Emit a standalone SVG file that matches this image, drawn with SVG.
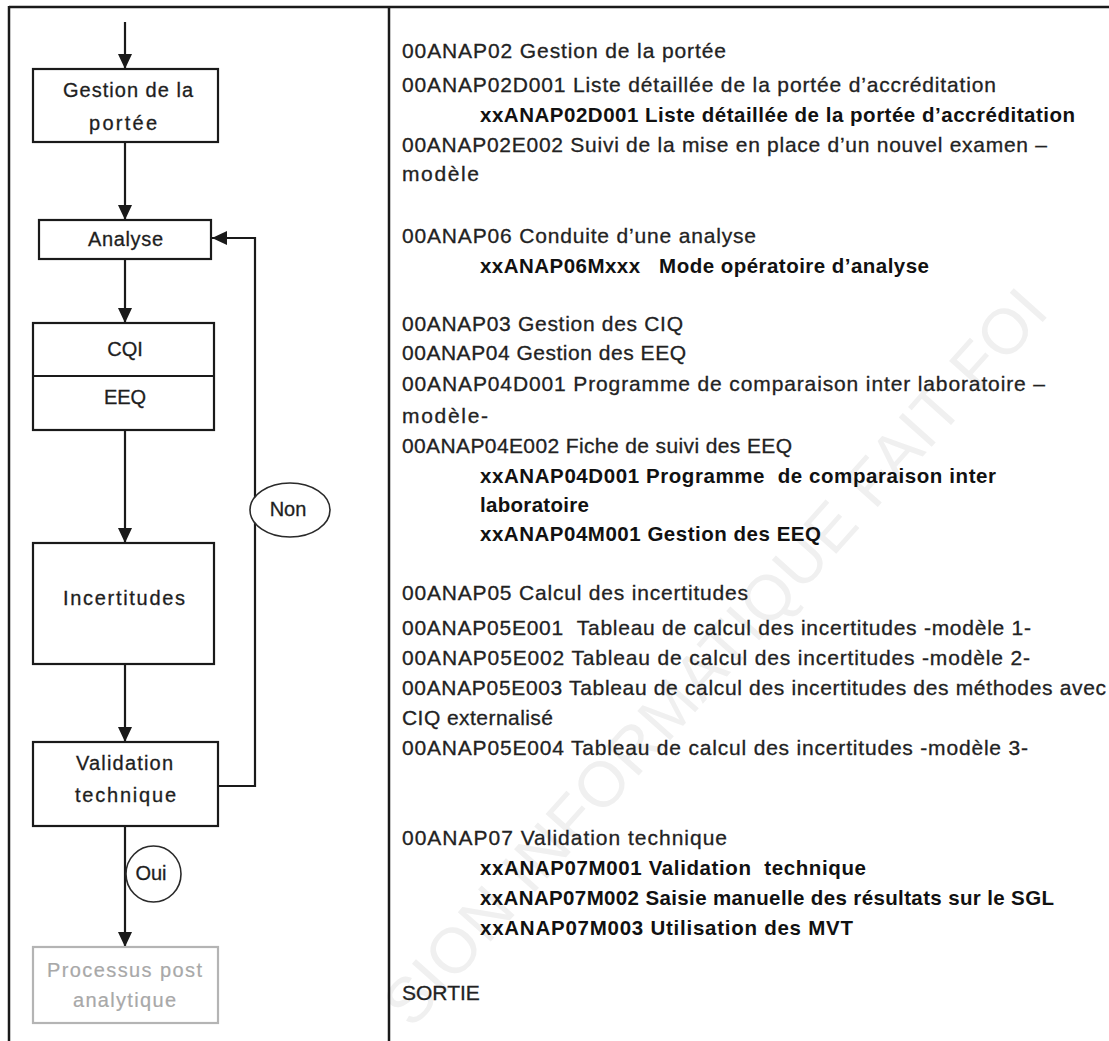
<svg xmlns="http://www.w3.org/2000/svg" width="1109" height="1041" viewBox="0 0 1109 1041">
<defs>
<style>
text{font-family:"Liberation Sans",Arial,sans-serif;white-space:pre;}
.fc{font-size:20px;fill:#1e1e1e;stroke:#1e1e1e;stroke-width:0.3;text-anchor:middle;}
.fcg{font-size:20px;fill:#a8a8a8;stroke:#a8a8a8;stroke-width:0.2;text-anchor:middle;}
.t{font-size:21px;fill:#222;stroke:#222;stroke-width:0.3;}
.b{font-size:20.5px;font-weight:bold;fill:#111;}
.box{fill:#fff;stroke:#1a1a1a;stroke-width:2.2;}
.gbox{fill:#fff;stroke:#b4b4b4;stroke-width:2.2;}
.ln{fill:none;stroke:#1a1a1a;stroke-width:2.2;}
.lab{fill:#fff;stroke:#2a2a2a;stroke-width:1.6;}
.wm{font-size:64px;fill:#f0f0f0;}
</style>
<marker id="ah" markerUnits="userSpaceOnUse" markerWidth="15" markerHeight="14" viewBox="0 0 15 14" refX="15" refY="7" orient="auto">
<path d="M0,0 L15,7 L0,14 z" fill="#1a1a1a"/>
</marker>
</defs>
<rect x="0" y="0" width="1109" height="1041" fill="#fff"/>
<text class="wm" transform="translate(412,1030) rotate(-48.3)" textLength="960">SION INFORMATIQUE FAIT FOI</text>
<g id="frame" fill="none" stroke="#1a1a1a" stroke-width="2.5">
<line x1="9" y1="7" x2="1109" y2="7"/>
<line x1="9" y1="6" x2="9" y2="1041"/>
<line x1="389" y1="6" x2="389" y2="1041"/>
</g>
<g id="connectors">
<line class="ln" x1="125" y1="22" x2="125" y2="69" marker-end="url(#ah)"/>
<line class="ln" x1="125" y1="142" x2="125" y2="220" marker-end="url(#ah)"/>
<line class="ln" x1="125" y1="259" x2="125" y2="323" marker-end="url(#ah)"/>
<line class="ln" x1="125" y1="430" x2="125" y2="543" marker-end="url(#ah)"/>
<line class="ln" x1="125" y1="664" x2="125" y2="742" marker-end="url(#ah)"/>
<line class="ln" x1="125" y1="826" x2="125" y2="947" marker-end="url(#ah)"/>
<polyline class="ln" points="218,786 255,786 255,238 212,238" marker-end="url(#ah)"/>
</g>
<g id="n-gestion">
<rect class="box" x="33" y="69" width="185" height="73"/>
<text class="fc" x="128" y="97" textLength="130">Gestion de la</text>
<text class="fc" x="123" y="130" textLength="68">portée</text>
</g>
<g id="n-analyse">
<rect class="box" x="39" y="220" width="172" height="39"/>
<text class="fc" x="125.5" y="246" textLength="75">Analyse</text>
</g>
<g id="n-cqi-eeq">
<rect class="box" x="33" y="323" width="181" height="107"/>
<line class="ln" x1="33" y1="376" x2="214" y2="376"/>
<text class="fc" x="125" y="356">CQI</text>
<text class="fc" x="125" y="404">EEQ</text>
</g>
<g id="n-incertitudes">
<rect class="box" x="33" y="543" width="181" height="121"/>
<text class="fc" x="124" y="605" textLength="122">Incertitudes</text>
</g>
<g id="n-validation">
<rect class="box" x="33" y="742" width="185" height="84"/>
<text class="fc" x="124.5" y="770" textLength="97">Validation</text>
<text class="fc" x="125.5" y="802" textLength="101">technique</text>
</g>
<g id="n-post">
<rect class="gbox" x="33" y="947" width="185" height="76"/>
<text class="fcg" x="124.5" y="977" textLength="155">Processus post</text>
<text class="fcg" x="124.5" y="1007" textLength="103">analytique</text>
</g>
<g id="l-non">
<ellipse class="lab" cx="290" cy="510" rx="40" ry="27"/>
<text class="fc" x="288" y="516">Non</text>
</g>
<g id="l-oui">
<ellipse class="lab" cx="153.5" cy="874" rx="27.5" ry="28"/>
<text class="fc" x="151" y="880">Oui</text>
</g>
<g id="doc-list">
<text class="t" x="402" y="58" textLength="324">00ANAP02 Gestion de la portée</text>
<text class="t" x="402" y="92" textLength="594">00ANAP02D001 Liste détaillée de la portée d’accréditation</text>
<text class="b" x="480" y="122" textLength="595">xxANAP02D001 Liste détaillée de la portée d’accréditation</text>
<text class="t" x="402" y="152" textLength="645">00ANAP02E002 Suivi de la mise en place d’un nouvel examen –</text>
<text class="t" x="402" y="181" textLength="77">modèle</text>
<text class="t" x="402" y="243" textLength="354">00ANAP06 Conduite d’une analyse</text>
<text class="b" x="480" y="273" textLength="449">xxANAP06Mxxx   Mode opératoire d’analyse</text>
<text class="t" x="402" y="331" textLength="281">00ANAP03 Gestion des CIQ</text>
<text class="t" x="402" y="360" textLength="284">00ANAP04 Gestion des EEQ</text>
<text class="t" x="402" y="391" textLength="643">00ANAP04D001 Programme de comparaison inter laboratoire –</text>
<text class="t" x="402" y="423" textLength="86">modèle-</text>
<text class="t" x="402" y="453" textLength="390">00ANAP04E002 Fiche de suivi des EEQ</text>
<text class="b" x="480" y="483" textLength="516">xxANAP04D001 Programme  de comparaison inter</text>
<text class="b" x="480" y="512" textLength="109">laboratoire</text>
<text class="b" x="480" y="541" textLength="341">xxANAP04M001 Gestion des EEQ</text>
<text class="t" x="402" y="600" textLength="346">00ANAP05 Calcul des incertitudes</text>
<text class="t" x="402" y="635" textLength="629">00ANAP05E001  Tableau de calcul des incertitudes -modèle 1-</text>
<text class="t" x="402" y="665" textLength="628">00ANAP05E002 Tableau de calcul des incertitudes -modèle 2-</text>
<text class="t" x="402" y="695" textLength="704">00ANAP05E003 Tableau de calcul des incertitudes des méthodes avec</text>
<text class="t" x="402" y="725" textLength="151">CIQ externalisé</text>
<text class="t" x="402" y="755" textLength="626">00ANAP05E004 Tableau de calcul des incertitudes -modèle 3-</text>
<text class="t" x="402" y="845" textLength="325">00ANAP07 Validation technique</text>
<text class="b" x="480" y="875" textLength="386">xxANAP07M001 Validation  technique</text>
<text class="b" x="480" y="905" textLength="574">xxANAP07M002 Saisie manuelle des résultats sur le SGL</text>
<text class="b" x="480" y="935" textLength="373">xxANAP07M003 Utilisation des MVT</text>
<text class="t" x="402" y="1000">SORTIE</text>
</g>
</svg>
